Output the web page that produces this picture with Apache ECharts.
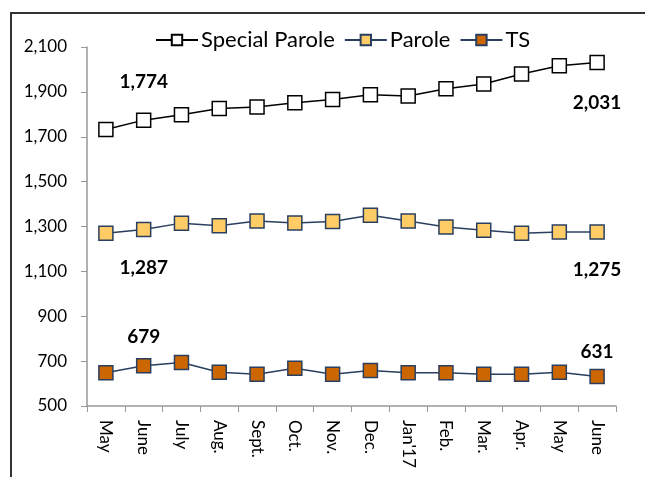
<!DOCTYPE html>
<html>
<head>
<meta charset="utf-8">
<script src="https://cdn.jsdelivr.net/npm/echarts@6/dist/echarts.min.js"></script>
<style>
  html, body { margin: 0; padding: 0; background: #fff; }
  #main { width: 645px; height: 477px; }
</style>
</head>
<body>
<div id="main"></div>
<script>
// data
var months = ['May', 'June', 'July', 'Aug.', 'Sept.', 'Oct.', 'Nov.', 'Dec.', "Jan'17", 'Feb.', 'Mar.', 'Apr.', 'May', 'June'];
var specialParole = [1732, 1774, 1798, 1826, 1833, 1852, 1866, 1887, 1882, 1914, 1935, 1980, 2016, 2031];
var parole = [1270, 1287, 1315, 1303, 1324, 1316, 1322, 1350, 1324, 1298, 1283, 1270, 1275, 1275];
var ts = [648, 679, 694, 650, 642, 668, 642, 658, 648, 648, 642, 642, 650, 631];
var yTicks = { min: 500, max: 2100, step: 200 };

var font = 'Lato, "Open Sans", sans-serif';

// which points carry a value label, and where
function withLabels(values, marks) {
  return values.map(function (v, i) {
    var m = marks[i];
    if (!m) return v;
    return {
      value: v,
      label: {
        show: true,
        position: m[0],
        distance: m[1],
        fontFamily: font,
        fontWeight: 'bold',
        fontSize: 19,
        color: '#000',
        formatter: function (p) { return p.value.toLocaleString('en-US'); }
      }
    };
  });
}

var chart = echarts.init(document.getElementById('main'));
chart.setOption({
  animation: false,
  backgroundColor: '#fff',
  graphic: [{
    type: 'rect',
    shape: { x: 11, y: 13, width: 640, height: 520 },
    style: { fill: 'none', stroke: '#333', lineWidth: 2 },
    z: -1
  }],
  legend: {
    top: 24,
    left: 150,
    itemWidth: 42,
    itemHeight: 13,
    itemGap: 9,
    textStyle: { fontFamily: font, fontSize: 22, color: '#000', padding: [0, 0, 0, -2] },
    data: ['Special Parole', 'Parole', 'TS']
  },
  grid: { left: 87, right: 29, top: 47, bottom: 71, containLabel: false },
  xAxis: {
    type: 'category',
    data: months,
    boundaryGap: true,
    axisLine: { lineStyle: { color: '#999', width: 1.5 } },
    axisTick: { show: true, length: 6, alignWithLabel: false, lineStyle: { color: '#999' } },
    axisLabel: {
      interval: 0,
      rotate: -90,
      margin: 14,
      fontFamily: font,
      fontSize: 17,
      color: '#000'
    },
    splitLine: { show: false }
  },
  yAxis: {
    type: 'value',
    min: yTicks.min,
    max: yTicks.max,
    interval: yTicks.step,
    axisLine: { show: true, lineStyle: { color: '#999', width: 1.5 } },
    axisTick: { show: true, length: 6, lineStyle: { color: '#999' } },
    axisLabel: {
      margin: 20,
      fontFamily: font,
      fontSize: 17,
      color: '#000',
      formatter: function (v) { return v.toLocaleString('en-US'); }
    },
    splitLine: { show: false }
  },
  series: [
    {
      name: 'Special Parole',
      type: 'line',
      symbol: 'rect',
      symbolSize: 14,
      data: withLabels(specialParole, { 1: ['top', 21], 13: ['bottom', 23] }),
      lineStyle: { color: '#000', width: 1.5 },
      itemStyle: { color: '#fff', borderColor: '#000', borderWidth: 1.5 }
    },
    {
      name: 'Parole',
      type: 'line',
      symbol: 'rect',
      symbolSize: 14,
      data: withLabels(parole, { 1: ['bottom', 21], 13: ['bottom', 21] }),
      lineStyle: { color: '#2a3f5f', width: 1.5 },
      itemStyle: { color: '#FFCC66', borderColor: '#2a3f5f', borderWidth: 1.5 }
    },
    {
      name: 'TS',
      type: 'line',
      symbol: 'rect',
      symbolSize: 14,
      data: withLabels(ts, { 1: ['top', 12], 13: ['top', 7] }),
      lineStyle: { color: '#2a3f5f', width: 1.5 },
      itemStyle: { color: '#CC6600', borderColor: '#2a3f5f', borderWidth: 1.5 }
    }
  ]
});
</script>
</body>
</html>
